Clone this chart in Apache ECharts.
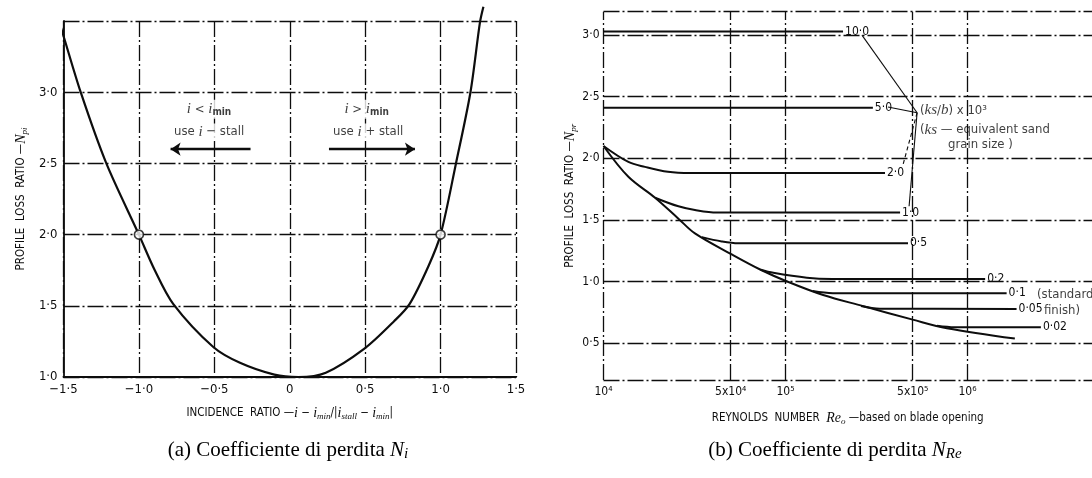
<!DOCTYPE html>
<html>
<head>
<meta charset="utf-8">
<script src="https://cdn.jsdelivr.net/npm/echarts@6/dist/echarts.min.js"></script>
<style>
  html, body { margin: 0; padding: 0; background: #ffffff; }
  #chart { width: 1092px; height: 478px; }
</style>
</head>
<body>
<div id="chart"></div>
<script>
// ---------- Panel (a): profile loss ratio against incidence ratio ----------
const incidenceRatio = [-1.55, -1.51, -1.386, -1.216, -1.0, -0.898, -0.773, -0.507, -0.33, -0.102,
  0.057, 0.239, 0.495, 0.693, 0.795, 0.92, 1.0, 1.102, 1.198, 1.261, 1.284];
const lossRatioIncidence = [3.56, 3.43, 3.0, 2.5, 2.0, 1.757, 1.514, 1.211, 1.10, 1.017,
  1.0, 1.03, 1.199, 1.393, 1.514, 1.78, 2.0, 2.5, 3.0, 3.49, 3.6];
const stallRatio = [-1.0, 1.0];
const stallLoss = [2.0, 2.0];
const incidenceTickLabels = ['−1·5', '−1·0', '−0·5', '0', '0·5', '1·0', '1·5'];
const lossTickLabelsA = ['1·0', '1·5', '2·0', '2·5', '3·0', ''];

// ---------- Panel (b): profile loss ratio against Reynolds number ----------
const reSmooth = [1.0e4, 1.37e4, 1.92e4, 2.58e4, 3.18e4, 5.06e4, 7.3e4, 1.02e5, 1.61e5, 2.67e5, 5.0e5, 7.7e5, 1.82e6];
const nSmooth = [2.10, 1.85, 1.68, 1.51, 1.39, 1.22, 1.095, 1.0, 0.89, 0.80, 0.69, 0.62, 0.536];

const roughnessNames = ['10·0', '5·0', '2·0', '1·0', '0·5', '0·2', '0·1', '0·05', '0·02'];
const reRough10 = [1.0e4, 2.07e5];            const nRough10 = [3.03, 3.03];
const reRough5 = [1.0e4, 3.02e5];             const nRough5 = [2.41, 2.41];
const reRough2 = [1.0e4, 1.37e4, 1.69e4, 2.26e4, 3.0e4, 3.52e5];
const nRough2 = [2.10, 1.97, 1.93, 1.89, 1.88, 1.88];
const reRough1 = [1.92e4, 2.58e4, 3.18e4, 4.2e4, 4.26e5];
const nRough1 = [1.68, 1.61, 1.58, 1.56, 1.56];
const reRough05 = [3.47e4, 4.46e4, 5.5e4, 4.71e5];
const nRough05 = [1.36, 1.325, 1.31, 1.31];
const reRough02 = [7.3e4, 8.57e4, 1.31e5, 1.8e5, 1.25e6];
const nRough02 = [1.095, 1.07, 1.03, 1.02, 1.02];
const reRough01 = [1.41e5, 1.82e5, 1.64e6];
const nRough01 = [0.922, 0.905, 0.905];
const reRough005 = [2.6e5, 3.3e5, 1.86e6];
const nRough005 = [0.80, 0.779, 0.777];
const reRough002 = [6.8e5, 8.5e5, 2.53e6];
const nRough002 = [0.64, 0.628, 0.628];

const reynoldsTickValues = [1e4, 5e4, 1e5, 5e5, 1e6];
const reynoldsTickLabels = ['10⁴', '5x10⁴', '10⁵', '5x10⁵', '10⁶'];
const lossTickValuesB = [0.5, 1.0, 1.5, 2.0, 2.5, 3.0];
const lossTickLabelsB = ['0·5', '1·0', '1·5', '2·0', '2·5', '3·0'];

// ---------- drawing ----------
const FONT = '"DejaVu Sans Condensed", "DejaVu Sans", sans-serif';
const SERIF = '"Liberation Serif", "DejaVu Serif", serif';
const INK = '#0d0d0d';
const DASH_DOT = [16, 3, 2, 3];
const lg = Math.log10;
const zip = (xs, ys) => xs.map((x, i) => [x, ys[i]]);
const zipLog = (xs, ys) => xs.map((x, i) => [lg(x), ys[i]]);

const reMin = 1e4, reMax = 4.83e6;
const nMinB = 0.2, nMaxB = 3.19;

const textRich = {
  t: { fontFamily: FONT, fontSize: 11.5, color: INK },
  i: { fontFamily: SERIF, fontStyle: 'italic', fontSize: 14, color: INK },
  s: { fontFamily: SERIF, fontStyle: 'italic', fontSize: 9, color: INK, padding: [7, 0, 0, 0] }
};
const noteRich = {
  t: { fontFamily: FONT, fontSize: 13, color: INK },
  i: { fontFamily: SERIF, fontStyle: 'italic', fontSize: 15, color: INK },
  s: { fontFamily: FONT, fontSize: 10, fontWeight: 'bold', color: INK, padding: [7, 0, 0, 0] }
};
const captionRich = {
  r: { fontFamily: SERIF, fontSize: 21, fill: '#000' },
  n: { fontFamily: SERIF, fontStyle: 'italic', fontSize: 21, fill: '#000' },
  s: { fontFamily: SERIF, fontStyle: 'italic', fontSize: 15, fill: '#000', padding: [9, 0, 0, 0] }
};

// grid lines of panel (b), drawn in data space
const gridLinesB = [];
reynoldsTickValues.forEach(v => gridLinesB.push([{ coord: [lg(v), nMinB] }, { coord: [lg(v), nMaxB] }]));
[nMinB].concat(lossTickValuesB, [nMaxB]).forEach(v =>
  gridLinesB.push([{ coord: [lg(reMin), v] }, { coord: [lg(reMax), v] }]));

const roughSets = [
  [reRough10, nRough10], [reRough5, nRough5], [reRough2, nRough2], [reRough1, nRough1],
  [reRough05, nRough05], [reRough02, nRough02], [reRough01, nRough01],
  [reRough005, nRough005], [reRough002, nRough002]
];

const roughSeries = roughSets.map((set, k) => ({
  type: 'line',
  name: roughnessNames[k],
  xAxisIndex: 1, yAxisIndex: 1,
  data: zipLog(set[0], set[1]),
  smooth: 0.35,
  symbol: 'none',
  lineStyle: { color: INK, width: 2 },
  endLabel: {
    show: true, distance: 2,
    formatter: () => roughnessNames[k],
    fontFamily: FONT, fontSize: 12, color: INK
  },
  z: 3
}));

const chart = echarts.init(document.getElementById('chart'), null, { renderer: 'canvas' });

chart.setOption({
  animation: false,
  backgroundColor: '#ffffff',
  grid: [
    { left: 63.5, right: 576, top: 21, bottom: 101 },
    { left: 603.5, right: 0, top: 11.7, bottom: 98 }
  ],
  xAxis: [
    {
      type: 'value', gridIndex: 0, min: -1.5, max: 1.5, interval: 0.5,
      axisLine: { show: true, onZero: false, lineStyle: { color: INK, width: 1.8 } },
      axisTick: { show: false },
      axisLabel: {
        margin: 6, fontFamily: FONT, fontSize: 13, color: INK,
        formatter: v => incidenceTickLabels[Math.round((v + 1.5) / 0.5)]
      },
      splitLine: { show: true, lineStyle: { color: INK, width: 1.3, type: DASH_DOT } },
      name: '{t|INCIDENCE  RATIO —}{i|i}{t| − }{i|i}{s|min}{t|/|}{i|i}{s|stall}{t| − }{i|i}{s|min}{t||}',
      nameLocation: 'middle', nameGap: 28,
      nameTextStyle: { rich: textRich }
    },
    {
      type: 'value', gridIndex: 1, min: lg(reMin), max: lg(reMax),
      axisLine: { show: false },
      axisTick: { show: false },
      splitLine: { show: false },
      axisLabel: {
        customValues: reynoldsTickValues.map(lg),
        margin: 6, fontFamily: FONT, fontSize: 12, color: INK,
        formatter: v => {
          const k = reynoldsTickValues.findIndex(r => Math.abs(lg(r) - v) < 1e-6);
          return k < 0 ? '' : reynoldsTickLabels[k];
        }
      },
      name: '{t|REYNOLDS  NUMBER  }{i|Re}{s|o}{t| —based on blade opening}',
      nameLocation: 'middle', nameGap: 30,
      nameTextStyle: { rich: textRich }
    }
  ],
  yAxis: [
    {
      type: 'value', gridIndex: 0, min: 1.0, max: 3.5, interval: 0.5,
      axisLine: { show: true, onZero: false, lineStyle: { color: INK, width: 1.8 } },
      axisTick: { show: false },
      axisLabel: {
        margin: 6, fontFamily: FONT, fontSize: 13, color: INK,
        formatter: v => lossTickLabelsA[Math.round((v - 1.0) / 0.5)]
      },
      splitLine: { show: true, lineStyle: { color: INK, width: 1.3, type: DASH_DOT } },
      name: '{t|PROFILE  LOSS  RATIO —}{i|N}{s|pi}',
      nameLocation: 'middle', nameGap: 34,
      nameTextStyle: { rich: textRich }
    },
    {
      type: 'value', gridIndex: 1, min: nMinB, max: nMaxB,
      axisLine: { show: false },
      axisTick: { show: false },
      splitLine: { show: false },
      axisLabel: {
        customValues: lossTickValuesB,
        margin: 4, fontFamily: FONT, fontSize: 12, color: INK,
        formatter: v => {
          const k = lossTickValuesB.findIndex(t => Math.abs(t - v) < 1e-6);
          return k < 0 ? '' : lossTickLabelsB[k];
        }
      },
      name: '{t|PROFILE  LOSS  RATIO —}{i|N}{s|pr}',
      nameLocation: 'middle', nameGap: 22,
      nameTextStyle: { rich: textRich }
    }
  ],
  graphic: [
    {
      type: 'text', x: 288, y: 450,
      style: {
        text: '{r|(a) Coefficiente di perdita }{n|N}{s|i}',
        rich: captionRich, align: 'center', verticalAlign: 'middle'
      }
    },
    {
      type: 'text', x: 835, y: 450,
      style: {
        text: '{r|(b) Coefficiente di perdita }{n|N}{s|Re}',
        rich: captionRich, align: 'center', verticalAlign: 'middle'
      }
    }
  ],
  series: [
    // panel (a) loss curve
    {
      type: 'line', xAxisIndex: 0, yAxisIndex: 0,
      data: zip(incidenceRatio, lossRatioIncidence),
      smooth: 0.3, symbol: 'none', clip: false,
      lineStyle: { color: INK, width: 2.2 }, z: 3
    },
    // stall points
    {
      type: 'scatter', xAxisIndex: 0, yAxisIndex: 0,
      data: zip(stallRatio, stallLoss),
      symbol: 'circle', symbolSize: 9,
      itemStyle: { color: '#ffffff', borderColor: INK, borderWidth: 1.6 }, z: 4
    },
    // panel (a) notes and arrows; the notes sit on a white patch that breaks the grid
    {
      type: 'scatter', xAxisIndex: 0, yAxisIndex: 0, symbolSize: 0, z: 5,
      label: {
        show: true, position: 'inside', rich: noteRich,
        backgroundColor: '#ffffff', padding: [1, 3, 1, 3]
      },
      data: [
        { value: [-0.535, 2.88], label: { formatter: '{i|i}{t| < }{i|i}{s|min}' } },
        { value: [-0.535, 2.72], label: { formatter: '{t|use }{i|i}{t| − stall}' } },
        { value: [0.51, 2.88], label: { formatter: '{i|i}{t| > }{i|i}{s|min}' } },
        { value: [0.52, 2.72], label: { formatter: '{t|use }{i|i}{t| + stall}' } }
      ],
      markLine: {
        silent: true, symbol: ['none', 'arrow'], symbolSize: 10,
        label: { show: false },
        lineStyle: { color: INK, width: 2.4, type: 'solid' },
        data: [
          [{ coord: [-0.26, 2.60] }, { coord: [-0.79, 2.60] }],
          [{ coord: [0.26, 2.60] }, { coord: [0.83, 2.60] }]
        ]
      }
    },
    // panel (b) hydraulically smooth curve, carries the grid lines
    {
      type: 'line', xAxisIndex: 1, yAxisIndex: 1,
      data: zipLog(reSmooth, nSmooth),
      smooth: 0.35, symbol: 'none',
      lineStyle: { color: INK, width: 2 }, z: 3,
      markLine: {
        silent: true, symbol: ['none', 'none'],
        label: { show: false },
        lineStyle: { color: INK, width: 1.3, type: DASH_DOT },
        data: gridLinesB
      }
    },
    ...roughSeries,
    // panel (b) notes and leader lines
    {
      type: 'scatter', xAxisIndex: 1, yAxisIndex: 1, symbolSize: 0, z: 5,
      label: { show: true, position: 'right', distance: 0, align: 'left', rich: noteRich },
      data: [
        { value: [5.739, 2.39], label: { formatter: '{t|(}{i|ks}{t|/}{i|b}{t|) x 10³}' } },
        { value: [5.739, 2.23], label: { formatter: '{t|(}{i|ks}{t| — equivalent sand}' } },
        { value: [5.893, 2.11], label: { formatter: '{t|grain size )}' } },
        { value: [6.382, 0.89], label: { formatter: '{t|(standard}' } },
        { value: [6.42, 0.76], label: { formatter: '{t|finish)}' } }
      ],
      markLine: {
        silent: true, symbol: ['none', 'none'],
        label: { show: false },
        lineStyle: { color: INK, width: 1.1, type: 'solid' },
        data: [
          [{ coord: [5.42, 3.0] }, { coord: [5.723, 2.37] }],
          [{ coord: [5.563, 2.416] }, { coord: [5.723, 2.37] }],
          [{ coord: [5.723, 2.37] }, { coord: [5.646, 1.95], lineStyle: { type: [4, 3] } }],
          [{ coord: [5.723, 2.37] }, { coord: [5.679, 1.61] }]
        ]
      }
    }
  ]
});
</script>
</body>
</html>
